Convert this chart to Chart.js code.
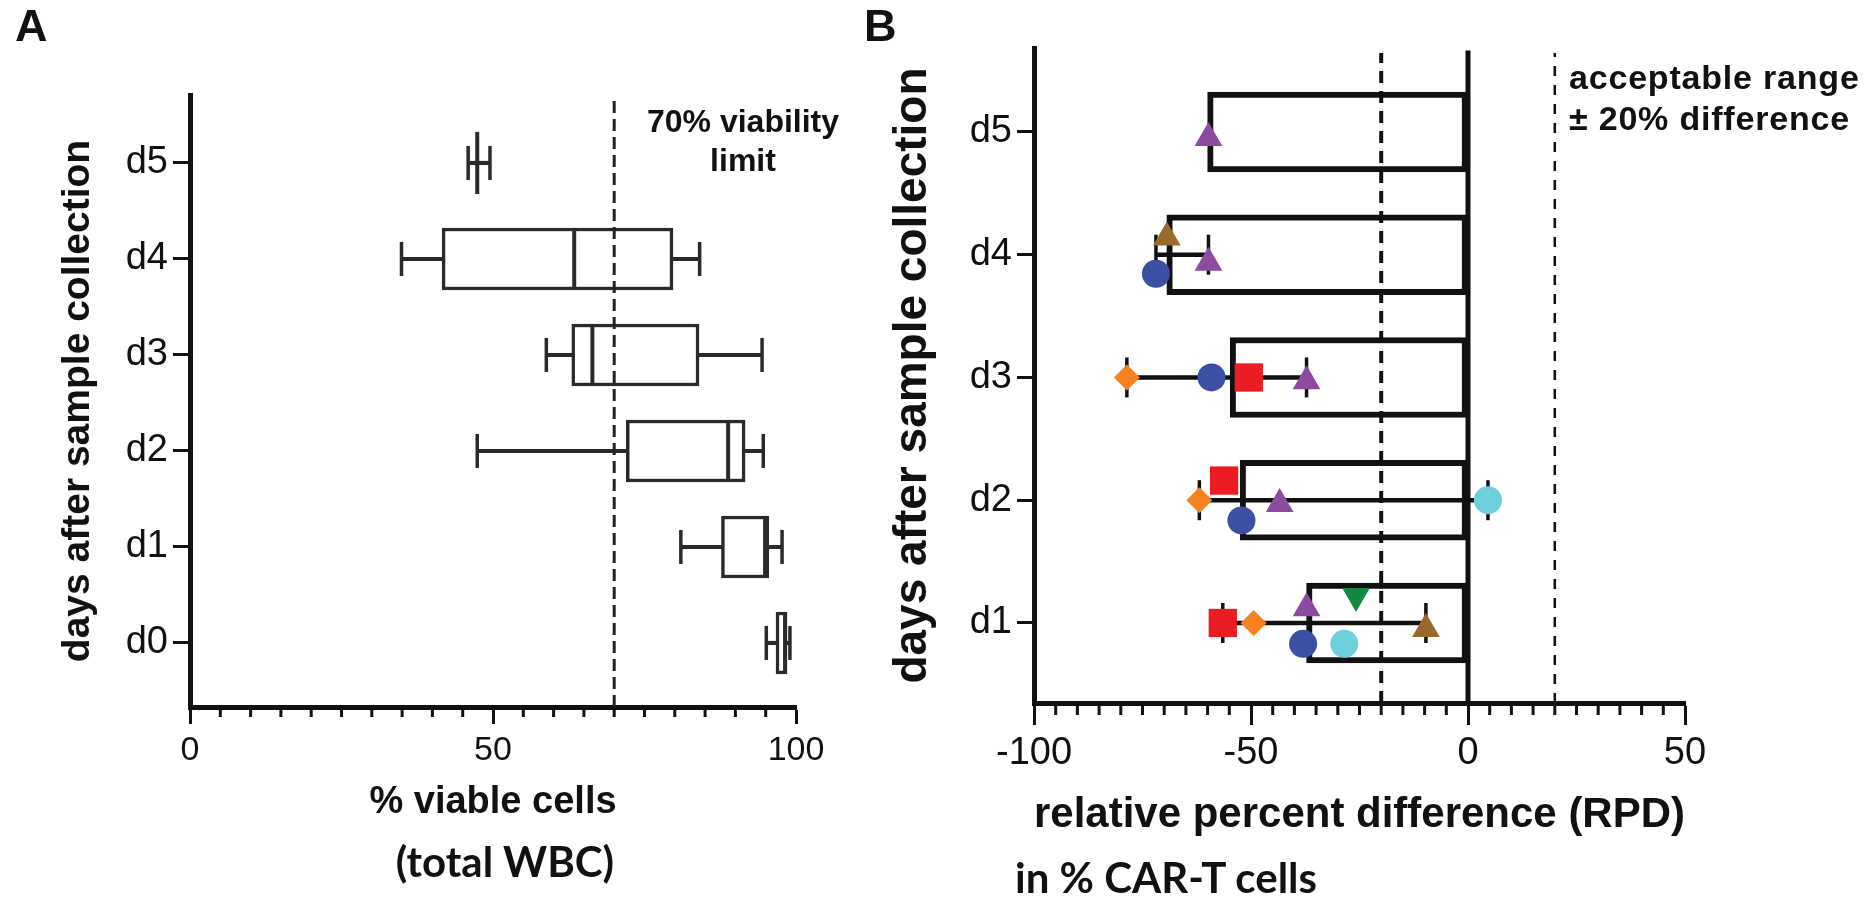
<!DOCTYPE html>
<html>
<head>
<meta charset="utf-8">
<title>CAR-T sample stability</title>
<script src="https://cdn.jsdelivr.net/npm/chart.js"></script>
<style>
    html, body { margin: 0; padding: 0; background: #fff; }
    body { position: relative; width: 1875px; height: 900px; overflow: hidden; color: #111;
           font-family: 'Liberation Sans', Arial, sans-serif; }
    canvas { position: absolute; top: 0; }
    #viabilityChart { left: 0; }
    #rpdChart { left: 880px; }
    .txt { position: absolute; white-space: nowrap; }
    .panel { font-weight: bold; font-size: 45px; line-height: 45px; top: 3px; }
    .note { font-weight: bold; font-size: 32px; line-height: 39px; }
    .sub { font-family: Lato, 'Open Sans', sans-serif; font-weight: bold; font-size: 42px; line-height: 42px; }
</style>
</head>
<body>
<canvas id="viabilityChart" width="880" height="900"></canvas>
<canvas id="rpdChart" width="995" height="900"></canvas>
<div class="txt panel" style="left:15px">A</div>
<div class="txt panel" style="left:864px">B</div>
<div class="txt note" style="left:743px; top:102px; transform:translateX(-50%); text-align:center">70% viability<br>limit</div>
<div class="txt note" style="left:1569px; top:57px; font-size:34px; line-height:40.5px; letter-spacing:0.8px">acceptable range<br>± 20% difference</div>
<div class="txt sub" style="left:505px; top:840px; transform:translateX(-50%)">(total WBC)</div>
<div class="txt sub" style="left:1015px; top:856px">in % CAR-T cells</div>
<script>
//-------------
//- PANEL A DATA : % viable cells, box and whiskers per day
//-------------
var daysA = ['d0', 'd1', 'd2', 'd3', 'd4', 'd5']
var minA = [95.1, 81.0, 47.4, 58.8, 34.9, 45.9]
var q1A = [96.7, 87.7, 72.0, 63.0, 41.6, 47.2]
var medA = [98.2, 94.9, 88.8, 66.4, 63.4, 47.4]
var q3A = [98.5, 95.5, 91.6, 84.0, 79.7, 47.6]
var maxA = [99.0, 97.7, 94.6, 94.4, 84.1, 49.5]
var viabilityLimit = [70]
var xTicksA = [0, 50, 100]

//-------------
//- PANEL B DATA : relative percent difference, median bar + range
//-------------
var daysB = ['d1', 'd2', 'd3', 'd4', 'd5']
var medianB = [-37.2, -52.5, -54.8, -69.4, -60.0]
var rangeMinB = [-56.5, -61.9, -78.6, -71.9, null]
var rangeMaxB = [-9.7, 4.6, -37.2, -59.8, null]
var acceptLines = [-20, 20]
var zeroLine = [0]
var xTicksB = [-100, -50, 0, 50]

// single samples per day (null = no value), shift = vertical scatter offset in day units
var blueCircle = [-38.0, -52.2, -59.1, -71.9, null]
var blueCircleShift = [-0.17, -0.165, 0, -0.155, 0]
var purpleTriangle = [-37.2, -43.4, -37.2, -59.8, -59.8]
var purpleTriangleShift = [0.12, -0.03, -0.03, -0.065, -0.05]
var brownTriangle = [-9.7, null, null, -69.4, null]
var brownTriangleShift = [-0.05, 0, 0, 0.14, 0]
var orangeDiamond = [-49.4, -61.9, -78.6, null, null]
var orangeDiamondShift = [0, 0, 0, 0, 0]
var redSquare = [-56.5, -56.2, -50.5, null, null]
var redSquareShift = [0, 0.16, 0, 0, 0]
var cyanCircle = [-28.5, 4.6, null, null, null]
var cyanCircleShift = [-0.17, 0, 0, 0, 0]
var greenTriangle = [-25.8, null, null, null, null]
var greenTriangleShift = [0.22, 0, 0, 0, 0]

Chart.defaults.font.family = "'Liberation Sans', Arial, sans-serif"
Chart.defaults.color = '#111'
Chart.defaults.animation = false

// minor ticks on the x axis (GraphPad style, shorter than the labelled ones)
var minorTicks = {
    id: 'minorTicks',
    afterDraw: function (chart, args, opts) {
        var scale = chart.scales.x
        var ctx = chart.ctx
        var count = Math.round((scale.max - scale.min) / opts.step)
        ctx.save()
        ctx.strokeStyle = opts.color
        ctx.lineWidth = opts.width
        ctx.beginPath()
        for (var i = 0; i <= count; i++) {
            var v = scale.min + i * opts.step
            if (Math.abs(v % opts.major) < 1e-6) continue
            var px = scale.getPixelForValue(v)
            ctx.moveTo(px, scale.top)
            ctx.lineTo(px, scale.top + opts.length)
        }
        ctx.stroke()
        ctx.restore()
    }
}

function points(values, shift) {
    var rows = []
    values.forEach(function (v, i) {
        if (v !== null) rows.push({ x: v, y: i + (shift ? shift[i] : 0) })
    })
    return rows
}
function spans(lo, hi) {
    var rows = []
    lo.forEach(function (v, i) {
        if (v !== null) rows.push({ x: [v, hi[i]], y: i })
    })
    return rows
}
function vline(value, yMin, yMax) {
    return [{ x: value, y: yMin }, { x: value, y: yMax }]
}
function tickList(values) {
    return function (scale) {
        scale.ticks = values.map(function (v) { return { value: v } })
    }
}

//-------------
//- PANEL A
//-------------
var yMinA = -0.667
var yMaxA = 5.708
new Chart(document.getElementById('viabilityChart'), {
    type: 'bar',
    data: {
        datasets: [
            {
                label: 'whisker',
                data: spans(minA, maxA),
                backgroundColor: '#2a2a2a',
                borderWidth: 0,
                barThickness: 3.5,
                grouped: false,
                order: 5
            },
            {
                label: 'box',
                data: spans(q1A, q3A),
                backgroundColor: '#fff',
                borderColor: '#2a2a2a',
                borderWidth: 3.5,
                borderSkipped: false,
                barThickness: 62,
                grouped: false,
                order: 4
            },
            {
                type: 'scatter',
                label: 'caps',
                data: points(minA).concat(points(maxA)),
                pointStyle: 'line',
                pointRotation: 90,
                pointRadius: 17,
                pointBorderWidth: 3.5,
                pointBorderColor: '#2a2a2a',
                order: 3
            },
            {
                type: 'scatter',
                label: 'median',
                data: points(medA),
                pointStyle: 'line',
                pointRotation: 90,
                pointRadius: 31,
                pointBorderWidth: 4,
                pointBorderColor: '#2a2a2a',
                order: 2
            },
            {
                type: 'scatter',
                label: '70% viability limit',
                data: vline(viabilityLimit[0], yMinA, yMaxA - 0.03),
                showLine: true,
                borderColor: '#222',
                borderWidth: 3,
                borderDash: [12, 6],
                pointRadius: 0,
                order: 1
            }
        ]
    },
    options: {
        indexAxis: 'y',
        responsive: false,
        events: [],
        layout: { padding: { left: 0, top: 95, right: 84, bottom: 0 } },
        plugins: {
            legend: { display: false },
            tooltip: { enabled: false },
            minorTicks: { step: 5, major: 50, length: 10, width: 3, color: '#111' }
        },
        scales: {
            x: {
                type: 'linear',
                min: 0,
                max: 100,
                offset: false,
                afterBuildTicks: tickList(xTicksA),
                afterFit: function (scale) { scale.height = 193 },
                grid: { drawOnChartArea: false, tickLength: 17, tickWidth: 3, tickColor: '#111', offset: false },
                border: { width: 5, color: '#111' },
                ticks: { padding: 6, maxRotation: 0, font: { size: 34 }, callback: function (v) { return String(v) } },
                title: { display: true, text: '% viable cells', font: { size: 38, weight: 'bold' }, padding: { top: 0, bottom: 75 } }
            },
            y: {
                type: 'linear',
                min: yMinA,
                max: yMaxA,
                offset: false,
                afterBuildTicks: tickList(daysA.map(function (d, i) { return i })),
                afterFit: function (scale) { scale.width = 190 },
                grid: { drawOnChartArea: false, tickLength: 17, tickWidth: 3, tickColor: '#111', offset: false },
                border: { width: 5, color: '#111' },
                ticks: { padding: 5, font: { size: 38 }, callback: function (v) { return daysA[v] } },
                title: { display: true, text: 'days after sample collection', font: { size: 39, weight: 'bold' }, padding: { top: 55, bottom: 0 } }
            }
        }
    },
    plugins: [minorTicks]
})

//-------------
//- PANEL B
//-------------
var yMinB = -0.652
var yMaxB = 4.684
var sampleStyle = { pointBorderWidth: 0, order: 0 }
function sampleSet(label, values, shift, color, style, radius, rotation) {
    return Object.assign({
        type: 'scatter',
        label: label,
        data: points(values, shift),
        pointStyle: style,
        pointRadius: radius,
        pointRotation: rotation || 0,
        pointBackgroundColor: color,
        pointBorderColor: color
    }, sampleStyle)
}
new Chart(document.getElementById('rpdChart'), {
    type: 'bar',
    data: {
        datasets: [
            {
                label: 'median RPD',
                data: points(medianB),
                backgroundColor: '#fff',
                borderColor: '#111',
                borderWidth: 6,
                borderSkipped: false,
                barThickness: 80,
                grouped: false,
                order: 10
            },
            {
                type: 'scatter',
                label: 'acceptable -20%',
                data: vline(acceptLines[0], yMinB, yMaxB - 0.04),
                showLine: true,
                borderColor: '#111',
                borderWidth: 4,
                borderDash: [12, 8],
                pointRadius: 0,
                order: 9
            },
            {
                type: 'scatter',
                label: 'acceptable +20%',
                data: vline(acceptLines[1], yMinB, yMaxB - 0.04),
                showLine: true,
                borderColor: '#111',
                borderWidth: 2.5,
                borderDash: [10, 9],
                pointRadius: 0,
                order: 9
            },
            {
                type: 'scatter',
                label: 'zero',
                data: vline(zeroLine[0], yMinB, yMaxB - 0.02),
                showLine: true,
                borderColor: '#111',
                borderWidth: 5,
                pointRadius: 0,
                order: 9
            },
            {
                label: 'range',
                data: spans(rangeMinB, rangeMaxB),
                backgroundColor: '#111',
                borderWidth: 0,
                barThickness: 4,
                grouped: false,
                order: 8
            },
            {
                type: 'scatter',
                label: 'range caps',
                data: points(rangeMinB).concat(points(rangeMaxB)),
                pointStyle: 'line',
                pointRotation: 90,
                pointRadius: 20,
                pointBorderWidth: 3.5,
                pointBorderColor: '#111',
                order: 7
            },
            sampleSet('brown', brownTriangle, brownTriangleShift, '#9a6a2c', 'triangle', 16),
            sampleSet('blue', blueCircle, blueCircleShift, '#3b4fa3', 'circle', 14),
            sampleSet('cyan', cyanCircle, cyanCircleShift, '#6dcfdc', 'circle', 14),
            sampleSet('purple', purpleTriangle, purpleTriangleShift, '#8d4b9f', 'triangle', 16),
            sampleSet('green', greenTriangle, greenTriangleShift, '#16873f', 'triangle', 16, 180),
            sampleSet('red', redSquare, redSquareShift, '#ec1c24', 'rect', 20),
            sampleSet('orange', orangeDiamond, orangeDiamondShift, '#f5821f', 'rectRot', 13)
        ]
    },
    options: {
        indexAxis: 'y',
        responsive: false,
        events: [],
        layout: { padding: { left: 0, top: 48, right: 190, bottom: 0 } },
        plugins: {
            legend: { display: false },
            tooltip: { enabled: false },
            minorTicks: { step: 5, major: 50, length: 12, width: 3, color: '#111' }
        },
        scales: {
            x: {
                type: 'linear',
                min: -100,
                max: 50,
                offset: false,
                afterBuildTicks: tickList(xTicksB),
                afterFit: function (scale) { scale.height = 197 },
                grid: { drawOnChartArea: false, tickLength: 22, tickWidth: 3, tickColor: '#111', offset: false },
                border: { width: 5, color: '#111' },
                ticks: { padding: 6, maxRotation: 0, font: { size: 38 }, callback: function (v) { return String(v) } },
                title: { display: true, text: 'relative percent difference (RPD)', font: { size: 43, weight: 'bold' }, padding: { top: 0, bottom: 59 } }
            },
            y: {
                type: 'linear',
                min: yMinB,
                max: yMaxB,
                offset: false,
                afterBuildTicks: tickList(daysB.map(function (d, i) { return i })),
                afterFit: function (scale) { scale.width = 154 },
                grid: { drawOnChartArea: false, tickLength: 17, tickWidth: 3, tickColor: '#111', offset: false },
                border: { width: 5, color: '#111' },
                ticks: { padding: 5, font: { size: 38 }, callback: function (v) { return daysB[v] } },
                title: { display: true, text: 'days after sample collection', font: { size: 46, weight: 'bold' }, padding: { top: 6, bottom: 0 } }
            }
        }
    },
    plugins: [minorTicks]
})
</script>
</body>
</html>
